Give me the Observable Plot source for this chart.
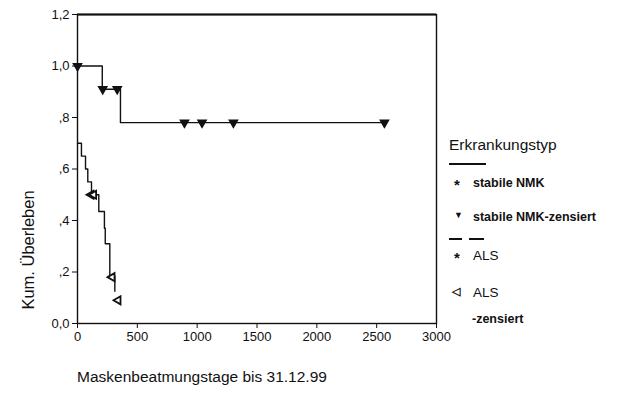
<!DOCTYPE html>
<html>
<head>
<meta charset="utf-8">
<script src="https://cdn.jsdelivr.net/npm/d3@7"></script>
<script src="https://cdn.jsdelivr.net/npm/@observablehq/plot@0.6"></script>
<style>
  html, body { margin: 0; padding: 0; background: #fff; }
  #wrap { position: relative; width: 626px; height: 399px; font-family: "Liberation Sans", Arial, sans-serif; color: #111; }
  .abs { position: absolute; white-space: nowrap; line-height: 1; }
</style>
</head>
<body>
<div id="wrap"></div>
<script>
// Stable NMK Kaplan-Meier steps
const nmkDays = [0, 207, 359, 2565];
const nmkSurv = [1.0, 0.91, 0.78, 0.78];
// Stable NMK censored
const nmkCensDays = [0, 211, 332, 894, 1041, 1303, 2565];
const nmkCensSurv = [1.0, 0.91, 0.91, 0.78, 0.78, 0.78, 0.78];
// ALS steps
const alsDays = [0, 33, 67, 86, 117, 178, 225, 232, 270, 312];
const alsSurv = [0.70, 0.65, 0.60, 0.55, 0.50, 0.435, 0.37, 0.31, 0.185, 0.125];
// ALS censored
const alsCensDays = [114, 136, 290, 340];
const alsCensSurv = [0.50, 0.50, 0.18, 0.09];
// Axis ticks
const xTicks = [0, 500, 1000, 1500, 2000, 2500, 3000];
const yTicks = [0, 0.2, 0.4, 0.6, 0.8, 1.0, 1.2];
const yTickLabels = ["0,0", ",2", ",4", ",6", ",8", "1,0", "1,2"];
// Legend
const legendTitle = "Erkrankungstyp";
const legendItems = ["stabile NMK", "stabile NMK-zensiert", "ALS", "ALS", "-zensiert"];
const xLabel = "Maskenbeatmungstage bis 31.12.99";
const yLabel = "Kum. Überleben";

const nmk = nmkDays.map((d, i) => ({d, s: nmkSurv[i]}));
const nmkC = nmkCensDays.map((d, i) => ({d, s: nmkCensSurv[i]}));
const als = alsDays.map((d, i) => ({d, s: alsSurv[i]}));
const alsC = alsCensDays.map((d, i) => ({d, s: alsCensSurv[i]}));

const chart = Plot.plot({
  width: 626,
  height: 399,
  marginLeft: 77,
  marginRight: 190,
  marginTop: 14,
  marginBottom: 76,
  style: {fontFamily: "Liberation Sans, Arial, sans-serif", fontSize: "13px", color: "#111", background: "#fff"},
  x: {domain: [0, 3000]},
  y: {domain: [0, 1.2]},
  marks: [
    Plot.axisX({ticks: xTicks, tickSize: 5, tickPadding: 3, tickFormat: d => String(d), label: null, fontSize: 13}),
    Plot.axisY({ticks: yTicks, tickSize: 5, tickPadding: 3, tickFormat: d => yTickLabels[yTicks.indexOf(d)], label: null, fontSize: 13}),
    Plot.frame({stroke: "#111", strokeWidth: 1.4}),
    Plot.ruleY([1.2], {stroke: "#111", strokeWidth: 2.2}),
    Plot.line(nmk, {x: "d", y: "s", curve: "step-after", stroke: "#111", strokeWidth: 1.4}),
    Plot.line(als, {x: "d", y: "s", curve: "step-after", stroke: "#111", strokeWidth: 1.4}),
    Plot.dot(nmkC, {x: "d", y: "s", symbol: "triangle", rotate: 180, r: 3, fill: "#111", stroke: "#111"}),
    Plot.dot(alsC, {x: "d", y: "s", symbol: "triangle", rotate: -90, r: 3, fill: "#fff", stroke: "#111", strokeWidth: 1.8})
  ]
});

const wrap = document.getElementById("wrap");
chart.style.position = "absolute";
chart.style.left = "0px";
chart.style.top = "0px";
wrap.appendChild(chart);

function addText(txt, left, top, size, extra) {
  const el = document.createElement("div");
  el.className = "abs";
  el.textContent = txt;
  el.style.left = left + "px";
  el.style.top = top + "px";
  el.style.fontSize = size + "px";
  if (extra) Object.assign(el.style, extra);
  wrap.appendChild(el);
  return el;
}
function addLine(left, top, w) {
  const el = document.createElement("div");
  el.style.position = "absolute";
  el.style.left = left + "px";
  el.style.top = top + "px";
  el.style.width = w + "px";
  el.style.height = "1.5px";
  el.style.background = "#111";
  wrap.appendChild(el);
}

// Axis titles
addText(xLabel, 77, 369, 15.5);
const yl = addText(yLabel, 0, 0, 16.5);
yl.style.left = "28px";
yl.style.top = "250px";
yl.style.transform = "translate(-50%, -50%) rotate(-90deg)";

// Legend
addText(legendTitle, 449, 137, 15.5);
addLine(449, 163, 37);
addText("*", 454, 177, 15, {fontWeight: "bold"});
addText(legendItems[0], 473, 177, 12.5, {fontWeight: "bold"});
addText("▼", 454, 211, 9);
addText(legendItems[1], 473, 211, 12.5, {fontWeight: "bold"});
addLine(449, 238, 13);
addLine(469, 238, 15);
addText("*", 454, 250, 15, {fontWeight: "bold"});
addText(legendItems[2], 473, 249, 13.5);
addText("◁", 452, 286, 11, {fontWeight: "bold"});
addText(legendItems[3], 473, 286, 13.5);
addText(legendItems[4], 472, 313, 12.5, {fontWeight: "bold"});
</script>
</body>
</html>
